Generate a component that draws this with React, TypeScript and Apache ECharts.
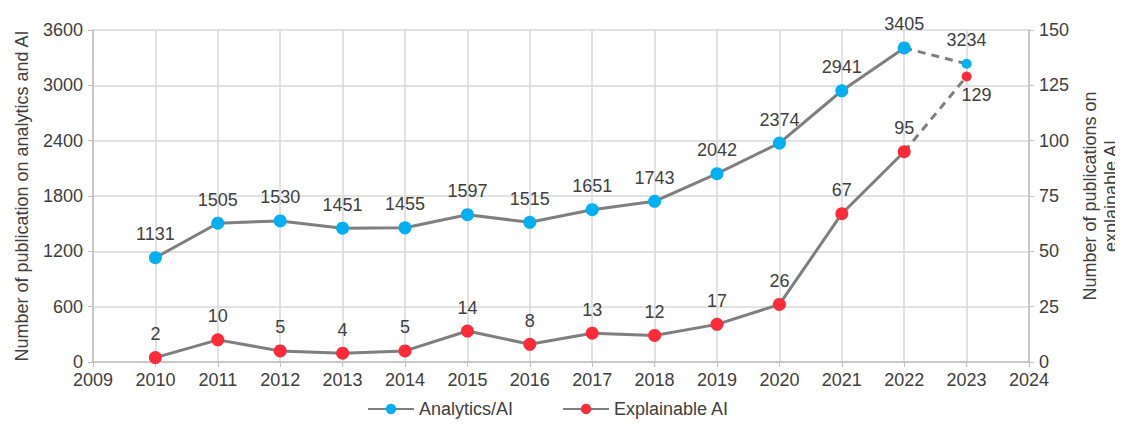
import React, { useEffect, useRef } from "react";
import * as echarts from "echarts";

const years = [2010, 2011, 2012, 2013, 2014, 2015, 2016, 2017, 2018, 2019, 2020, 2021, 2022, 2023];
const analyticsAI = [1131, 1505, 1530, 1451, 1455, 1597, 1515, 1651, 1743, 2042, 2374, 2941, 3405, 3234];
const explainableAI = [2, 10, 5, 4, 5, 14, 8, 13, 12, 17, 26, 67, 95, 129];
const seriesNames = ["Analytics/AI", "Explainable AI"];
const leftAxisName = "Number of publication on analytics and AI";
const rightAxisName = "Number of publications on\nexplainable AI";

const TEXT = "#404040";
const GRID = "#d9d9d9";
const AXIS = "#bfbfbf";
const LINE = "#7f7f7f";
const BLUE = "#00b0f0";
const RED = "#ff2b3b";
const FONT = "Liberation Sans, Arial, sans-serif";
const FS = 18;

export default function App() {
  const ref = useRef<HTMLDivElement>(null);
  useEffect(() => {
    if (!ref.current) return;
    const chart = echarts.init(ref.current, undefined, { renderer: "svg" });
    const n = years.length;
    const solidA = years.slice(0, n - 1).map((y, i) => [y, analyticsAI[i]]);
    const solidE = years.slice(0, n - 1).map((y, i) => [y, explainableAI[i]]);
    const dashA = [
      { value: [years[n - 2], analyticsAI[n - 2]], symbolSize: 0, label: { show: false } },
      { value: [years[n - 1], analyticsAI[n - 1]] },
    ];
    const dashE = [
      { value: [years[n - 2], explainableAI[n - 2]], symbolSize: 0, label: { show: false } },
      { value: [years[n - 1], explainableAI[n - 1]] },
    ];
    const labelBase = { show: true, color: TEXT, fontSize: FS, fontFamily: FONT };
    chart.setOption({
      animation: false,
      textStyle: { fontFamily: FONT },
      grid: { left: 85, right: 94, top: 22, bottom: 58, containLabel: false, outerBoundsMode: "none" },
      legend: {
        data: seriesNames,
        bottom: -3,
        left: 354,
        itemGap: 49,
        itemWidth: 46,
        itemHeight: 13,
        textStyle: { color: TEXT, fontSize: FS, fontFamily: FONT },
      },
      xAxis: {
        type: "value",
        min: 2009,
        max: 2024,
        interval: 1,
        axisLine: { show: true, lineStyle: { color: AXIS, width: 1.5 } },
        axisTick: { show: true, length: 5, lineStyle: { color: AXIS } },
        axisLabel: { color: TEXT, fontSize: FS, fontFamily: FONT, margin: 9, formatter: (v: number) => String(v) },
        splitLine: { show: true, lineStyle: { color: GRID, width: 1.5 } },
      },
      yAxis: [
        {
          type: "value",
          min: 0,
          max: 3600,
          interval: 600,
          name: leftAxisName,
          nameLocation: "middle",
          nameGap: 62,
          nameTextStyle: { color: TEXT, fontSize: FS, fontFamily: FONT },
          axisLine: { show: true, lineStyle: { color: AXIS, width: 1.5 } },
          axisTick: { show: true, length: 5, lineStyle: { color: AXIS } },
          axisLabel: { color: TEXT, fontSize: FS, fontFamily: FONT, margin: 10, formatter: (v: number) => String(v) },
          splitLine: { show: true, lineStyle: { color: GRID, width: 1.5 } },
        },
        {
          type: "value",
          min: 0,
          max: 150,
          interval: 25,
          name: rightAxisName,
          nameLocation: "middle",
          nameGap: 42,
          nameRotate: 90,
          nameTextStyle: { color: TEXT, fontSize: FS, fontFamily: FONT, lineHeight: 21 },
          axisLine: { show: true, lineStyle: { color: AXIS, width: 1.5 } },
          axisTick: { show: true, length: 5, lineStyle: { color: AXIS } },
          axisLabel: { color: TEXT, fontSize: FS, fontFamily: FONT, margin: 10 },
          splitLine: { show: false },
        },
      ],
      series: [
        {
          name: seriesNames[0],
          type: "line",
          yAxisIndex: 0,
          data: solidA,
          symbol: "circle",
          symbolSize: 13,
          itemStyle: { color: BLUE },
          lineStyle: { color: LINE, width: 3 },
          label: { ...labelBase, position: "top", distance: 8 },
          z: 3,
        },
        {
          name: seriesNames[1],
          type: "line",
          yAxisIndex: 1,
          data: solidE,
          symbol: "circle",
          symbolSize: 13,
          itemStyle: { color: RED },
          lineStyle: { color: LINE, width: 3 },
          label: { ...labelBase, position: "top", distance: 8 },
          z: 3,
        },
        {
          name: "Analytics/AI (2023)",
          type: "line",
          yAxisIndex: 0,
          data: dashA,
          symbol: "circle",
          symbolSize: 10,
          itemStyle: { color: BLUE },
          lineStyle: { color: LINE, width: 3, type: [8, 6] },
          label: { ...labelBase, position: "top", distance: 10 },
          z: 2,
        },
        {
          name: "Explainable AI (2023)",
          type: "line",
          yAxisIndex: 1,
          data: dashE,
          symbol: "circle",
          symbolSize: 10,
          itemStyle: { color: RED },
          lineStyle: { color: LINE, width: 3, type: [8, 6] },
          label: { ...labelBase, position: "bottom", distance: 5, offset: [10, 0] },
          z: 2,
        },
      ],
    });
    return () => chart.dispose();
  }, []);
  return <div ref={ref} style={{ width: 1115, height: 412 }} />;
}
